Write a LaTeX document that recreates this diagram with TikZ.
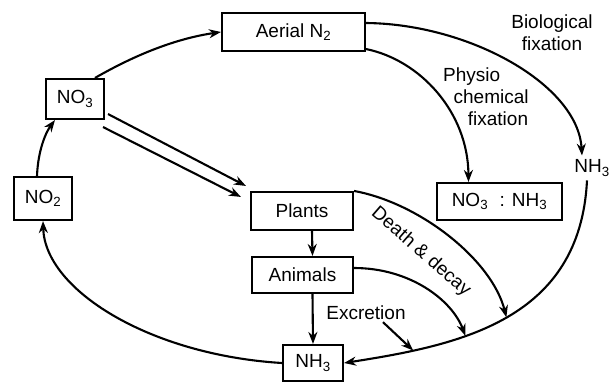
\documentclass[tikz,border=0pt]{standalone}
\usepackage{fontspec}
\setmainfont{Liberation Sans}
\usetikzlibrary{arrows.meta}
\newcommand{\mysub}[1]{\textsubscript{#1}}
\begin{document}
\begin{tikzpicture}[x=1pt,y=-1pt,
  every node/.style={font=\fontsize{19}{22}\selectfont},
  box/.style={draw,line width=2.1pt,inner sep=0pt,minimum width=#1},
  lbl/.style={align=center,inner sep=0pt},
  arr/.style={line width=2.1pt,-{Stealth[length=12pt,width=9pt]}}]
\useasboundingbox (0,0) rectangle (614,383);
\node[box=143pt,minimum height=38pt] (aerial) at (293.5,32) {Aerial N\mysub{2}};
\node[box=58pt,minimum height=40pt] (no3) at (75,99) {NO\mysub{3}};
\node[box=58pt,minimum height=43pt] (no2) at (43,198.5) {NO\mysub{2}};
\node[box=102pt,minimum height=38pt] (plants) at (302,211) {Plants};
\node[box=101pt,minimum height=36pt] (animals) at (302.5,275) {Animals};
\node[box=60pt,minimum height=36pt] (nh3b) at (313,363) {NH\mysub{3}};
\node[box=125pt,minimum height=37pt] (mix) at (499.5,201.5) {NO\mysub{3}\hspace{0.6em}: NH\mysub{3}};
\node[lbl] (nh3t) at (592,168) {NH\mysub{3}};
\node[lbl] (bio) at (552,33) {Biological\\fixation};
\node[lbl,align=left,anchor=west] (phys) at (443,97) {Physio\\\hspace*{0.55em}chemical\\\hspace*{1.3em}fixation};
\node[lbl,rotate=-41] (dd) at (421,252) {Death \& decay};
\node[lbl] (ext) at (366,313) {Excretion};
% connectors
\draw[arr] ([xshift=20pt]no3.north) .. controls (140,52) and (180,38) .. (aerial.west);
\draw[arr] ([yshift=9pt]aerial.east) .. controls (470,24) and (578,85) .. ([xshift=-10pt,yshift=4pt]nh3t.north);
\draw[arr] ([yshift=3pt]aerial.south east) .. controls (420,60) and (468,112) .. ([xshift=-31pt]mix.north);
\draw[arr] ([xshift=3pt,yshift=6pt]no3.south east) -- ([xshift=-4pt,yshift=5pt]plants.north west);
\draw[arr] ([xshift=-2pt,yshift=-7pt]no3.south east) -- ([xshift=-9pt,yshift=-6pt]plants.north west);
\draw[arr] ([xshift=10pt]plants.south) -- ([xshift=10pt]animals.north);
\draw[arr] ([xshift=10pt]animals.south) -- (nh3b.north);
\draw[arr] (nh3b.west) .. controls (150,355) and (45,290) .. (no2.south);
\draw[arr] ([xshift=-6pt]no2.north) .. controls (38,150) and (46,132) .. ([xshift=-20pt]no3.south);
\draw[arr] ([xshift=-5pt,yshift=-4pt]nh3t.south) .. controls (580,320) and (460,345) .. (nh3b.east)
  coordinate[pos=0.5] (cdd) coordinate[pos=0.64] (can) coordinate[pos=0.8] (cex);
\draw[arr] (plants.north east) .. controls (420,203) and (492,260) .. (cdd);
\draw[arr] ([yshift=7pt]animals.east) .. controls (410,268) and (452,300) .. (can);
\draw[arr] ([xshift=17pt,yshift=-2pt]ext.south) -- (cex);
\end{tikzpicture}
\end{document}
